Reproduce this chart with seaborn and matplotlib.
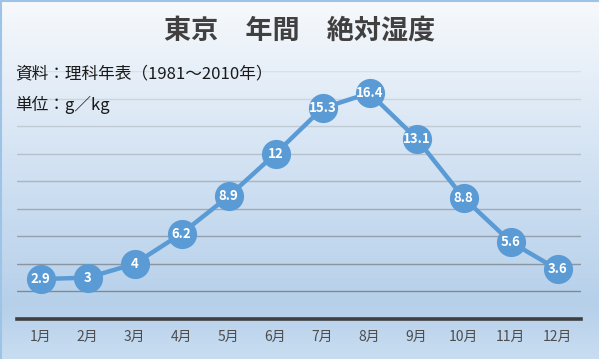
import numpy as np
import pandas as pd
import seaborn as sns
import matplotlib.pyplot as plt
from matplotlib.colors import LinearSegmentedColormap, to_rgb
from matplotlib.lines import Line2D

# Dados: umidade absoluta mensal em Tóquio (g/kg)
meses = ['1月', '2月', '3月', '4月', '5月', '6月', '7月', '8月', '9月', '10月', '11月', '12月']
umidade = [2.9, 3.0, 4.0, 6.2, 8.9, 12.0, 15.3, 16.4, 13.1, 8.8, 5.6, 3.6]

df = pd.DataFrame({'mes': meses, 'umidade': umidade})

sns.set_style('white')
plt.rcParams['font.family'] = ['Noto Sans CJK JP', 'DejaVu Sans']

fig = plt.figure(figsize=(5.99, 3.59), dpi=100)

# Fundo em degradê
bg = fig.add_axes([0, 0, 1, 1], zorder=-10)
cmap_bg = LinearSegmentedColormap.from_list(
    'bg', [(0, '#c8ddf1'), (0.15, '#b6d0ea'), (0.5, '#cfe0f2'), (1, '#f7f9fc')])
grad = np.linspace(0, 1, 256).reshape(-1, 1)
bg.imshow(grad, aspect='auto', cmap=cmap_bg, extent=[0, 1, 0, 1], origin='lower')
bg.axis('off')

# Borda superior e esquerda
fig.add_artist(Line2D([0, 1], [0.998, 0.998], color='#9dc3e6', lw=1.5))
fig.add_artist(Line2D([0.001, 0.001], [0, 1], color='#9dc3e6', lw=1.5))

ax = fig.add_axes([17 / 599, 1 - 319 / 359, 564 / 599, 248 / 359])
ax.patch.set_alpha(0)

# Linhas de grade com tons diferentes (mais claras no topo)
top_c = np.array(to_rgb('#d6e0ea'))
bot_c = np.array(to_rgb('#7e8a96'))
for y in range(2, 19, 2):
    t = (y - 2) / 16
    ax.axhline(y, color=bot_c * (1 - t) + top_c * t, lw=1, zorder=1)

sns.lineplot(data=df, x='mes', y='umidade', sort=False, marker='o',
             markersize=21, markeredgewidth=0, color='#5b9bd5',
             linewidth=3.2, ax=ax, zorder=3, clip_on=False)

for i, v in enumerate(umidade):
    ax.text(i, v, f'{v:g}', ha='center', va='center', color='white',
            fontsize=9.5, fontweight='bold', zorder=4)

ax.set_xlim(-0.5, 11.5)
ax.set_ylim(0, 18)
ax.set_yticks([])
ax.set_xlabel('')
ax.set_ylabel('')
for s in ['top', 'left', 'right']:
    ax.spines[s].set_visible(False)
ax.spines['bottom'].set_color('#3f3f3f')
ax.spines['bottom'].set_linewidth(2.6)
ax.tick_params(axis='x', length=0, pad=8, labelsize=10, labelcolor='#4d4d4d')

fig.text(0.5, 1 - 31 / 359, '東京　年間　絶対湿度', ha='center', va='center',
         fontsize=19.5, fontweight='bold', color='#404040')
fig.text(15 / 599, 1 - 74 / 359, '資料：理科年表（1981～2010年）', ha='left', va='center',
         fontsize=12, color='#1a1a1a')
fig.text(15 / 599, 1 - 105 / 359, '単位：g／kg', ha='left', va='center',
         fontsize=12, color='#1a1a1a')

fig.savefig('out.png', dpi=100)
